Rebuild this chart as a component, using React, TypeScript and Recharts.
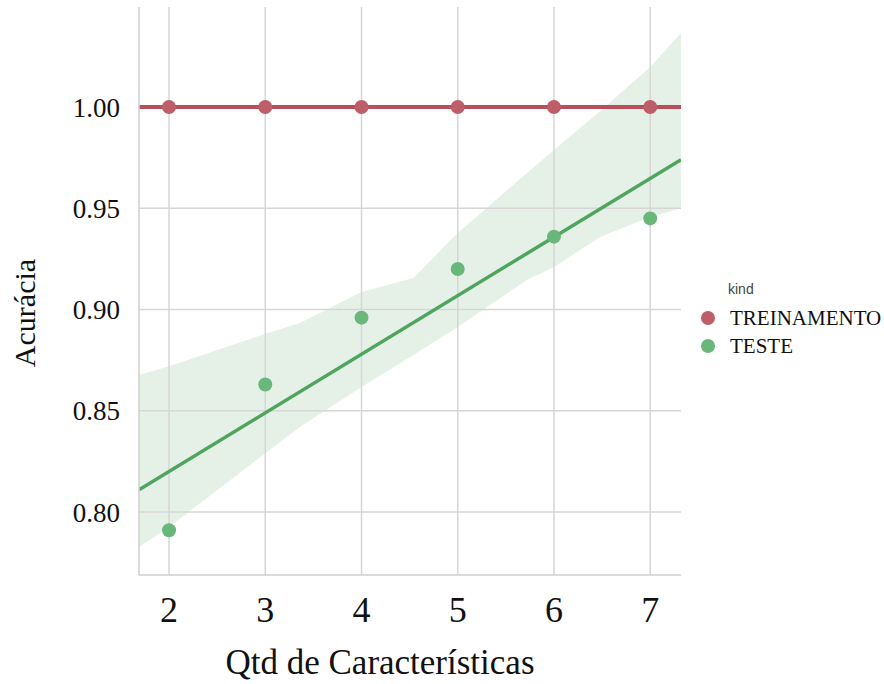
import React from 'react'
import {
  ComposedChart,
  Area,
  Line,
  Scatter,
  XAxis,
  YAxis,
  ReferenceLine,
} from 'recharts'

// feature counts and accuracies
const featureCounts = [2, 3, 4, 5, 6, 7]
const trainAcc = [1.0, 1.0, 1.0, 1.0, 1.0, 1.0]
const testAcc = [0.791, 0.863, 0.896, 0.92, 0.936, 0.945]

// fitted lines, ends at the plot edges
const trainFitX = [1.688, 7.32]
const trainFitY = [1.0, 1.0]
const testFitX = [1.688, 7.32]
const testFitY = [0.811, 0.974]

// confidence band of the TESTE fit
const bandX = [1.688, 2, 3, 3.36, 4, 4.54, 5, 5.72, 6, 6.48, 7, 7.32]
const bandLow = [0.7827, 0.7926, 0.829, 0.842, 0.8617, 0.8775, 0.8914, 0.9146, 0.921, 0.9358, 0.9457, 0.95]
const bandHigh = [0.8677, 0.872, 0.888, 0.8933, 0.9086, 0.9156, 0.9378, 0.9674, 0.9788, 0.998, 1.0198, 1.0365]

const xTicks = [2, 3, 4, 5, 6, 7]
const yTicks = [0.8, 0.85, 0.9, 0.95, 1.0]
const kinds = ['TREINAMENTO', 'TESTE']

const RED = '#b84f5a'
const RED_PT = '#bd5e69'
const GREEN = '#4fa55e'
const GREEN_PT = '#6ab77c'
const GRID = '#d6d6d6'
const SERIF = '"Liberation Serif", "Times New Roman", serif'

const bandData = bandX.map((x, i) => ({ x, band: [bandLow[i], bandHigh[i]] }))
const trainPts = featureCounts.map((x, i) => ({ x, y: trainAcc[i] }))
const testPts = featureCounts.map((x, i) => ({ x, y: testAcc[i] }))
const trainFit = trainFitX.map((x, i) => ({ x, y: trainFitY[i] }))
const testFit = testFitX.map((x, i) => ({ x, y: testFitY[i] }))

const dot = (color: string) => (p: any) => <circle cx={p.cx} cy={p.cy} r={7} fill={color} />

function KindLegend() {
  const colors = [RED_PT, GREEN_PT]
  return (
    <div style={{ position: 'absolute', left: 701, top: 281, fontFamily: SERIF }}>
      <div style={{ fontFamily: '"Liberation Sans", Arial, sans-serif', fontSize: 14, color: '#444', marginLeft: 27, height: 23 }}>kind</div>
      {kinds.map((name, i) => (
        <div key={name} style={{ display: 'flex', alignItems: 'center', height: 28 }}>
          <span style={{ width: 14, height: 14, borderRadius: 7, background: colors[i], display: 'inline-block', marginRight: 15 }} />
          <span style={{ fontSize: 21, color: '#111' }}>{name}</span>
        </div>
      ))}
    </div>
  )
}

export default function App() {
  return (
    <div style={{ position: 'absolute', left: 0, top: 0, width: 884, height: 684, background: '#fff' }}>
      <ComposedChart
        width={884}
        height={684}
        data={bandData}
        margin={{ top: 7, right: 203, bottom: 0, left: 39 }}
        style={{ fontFamily: SERIF }}
      >
        {/* grid only at the ticks, no frame */}
        {yTicks.map(t => (
          <ReferenceLine key={'h' + t} y={t} stroke={GRID} strokeWidth={1.5} />
        ))}
        {xTicks.map(t => (
          <ReferenceLine key={'v' + t} x={t} stroke={GRID} strokeWidth={1.5} />
        ))}
        <XAxis
          type="number"
          dataKey="x"
          domain={[1.688, 7.32]}
          ticks={xTicks}
          allowDataOverflow
          height={109}
          tickSize={0}
          tickMargin={21}
          stroke="#cfcfcf"
          strokeWidth={1.5}
          tick={{ fontSize: 36, fill: '#111', fontFamily: SERIF }}
          label={{
            content: () => (
              <text x={380} y={674} textAnchor="middle" fontSize={35} fill="#111" fontFamily={SERIF}>
                Qtd de Características
              </text>
            ),
          }}
        />
        <YAxis
          type="number"
          domain={[0.7689, 1.0494]}
          ticks={yTicks}
          allowDataOverflow
          width={100}
          tickSize={0}
          tickMargin={19}
          stroke="#cfcfcf"
          strokeWidth={1.5}
          tickFormatter={(v: number) => v.toFixed(2)}
          tick={{ fontSize: 27, fill: '#111', fontFamily: SERIF }}
          label={{
            content: () => (
              <text x={35} y={313} textAnchor="middle" fontSize={30} fill="#111" fontFamily={SERIF} transform="rotate(-90 35 313)">
                Acurácia
              </text>
            ),
          }}
        />
        <Area
          type="linear"
          dataKey="band"
          stroke="none"
          fill="#52a35f"
          fillOpacity={0.15}
          isAnimationActive={false}
        />
        <Line data={testFit} dataKey="y" stroke={GREEN} strokeWidth={3.5} dot={false} isAnimationActive={false} />
        <Line data={trainFit} dataKey="y" stroke={RED} strokeWidth={4} dot={false} isAnimationActive={false} />
        <Scatter data={testPts} dataKey="y" fill={GREEN_PT} shape={dot(GREEN_PT)} isAnimationActive={false} />
        <Scatter data={trainPts} dataKey="y" fill={RED_PT} shape={dot(RED_PT)} isAnimationActive={false} />
      </ComposedChart>
      <KindLegend />
    </div>
  )
}
